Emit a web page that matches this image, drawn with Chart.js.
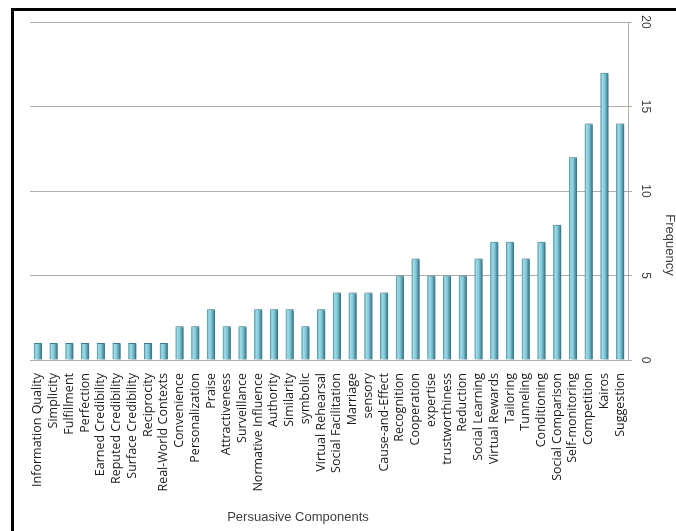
<!DOCTYPE html>
<html>
<head>
<meta charset="utf-8">
<script src="https://cdn.jsdelivr.net/npm/chart.js@4.4.1/dist/chart.umd.min.js"></script>
<style>
  html, body { margin: 0; padding: 0; background: #fff; }
  #wrap { position: relative; width: 676px; height: 531px; overflow: hidden; }
  #frame {
    position: absolute; left: 11px; top: 8px; width: 700px; height: 560px;
    border-top: 3px solid #000; border-left: 3px solid #000; pointer-events: none;
  }
</style>
</head>
<body>
<div id="wrap">
  <canvas id="freqChart" width="676" height="531"></canvas>
  <div id="frame"></div>
</div>
<script>
// Persuasive components and how often each one was found
const categories = [
    'Information Quality', 'Simplicity', 'Fulfillment', 'Perfection', 'Earned Credibility',
    'Reputed Credibility', 'Surface Credibility', 'Reciprocity', 'Real-World Contexts',
    'Convenience', 'Personalization', 'Praise', 'Attractiveness', 'Surveillance',
    'Normative Influence', 'Authority', 'Similarity', 'symbolic', 'Virtual Rehearsal',
    'Social Facilitation', 'Marriage', 'sensory', 'Cause-and-Effect', 'Recognition',
    'Cooperation', 'expertise', 'trustworthiness', 'Reduction', 'Social Learning',
    'Virtual Rewards', 'Tailoring', 'Tunneling', 'Conditioning', 'Social Comparison',
    'Self-monitoring', 'Competition', 'Kairos', 'Suggestion'
];
const frequencies = [
    1, 1, 1, 1, 1, 1, 1, 1, 1,
    2, 2, 3, 2, 2, 3, 3, 3, 2, 3,
    4, 4, 4, 4, 5, 6, 5, 5, 5, 6,
    7, 7, 6, 7, 8, 12, 14, 17, 14
];
const yTicks = [0, 5, 10, 15, 20];

const GRID = '#aeaea6';
const BAR_FLAT = '#6fbccd';

// Cylinder-like shading across each bar
function barGradient(context) {
    const chart = context.chart;
    const xs = chart.scales.x;
    if (!chart.chartArea || !xs || context.dataIndex === undefined) return BAR_FLAT;
    const cx = xs.getPixelForValue(context.dataIndex);
    const half = xs.width / categories.length * 0.26;
    const g = chart.ctx.createLinearGradient(cx - half, 0, cx + half, 0);
    g.addColorStop(0, '#3c8ca0');
    g.addColorStop(0.25, '#a2dbe7');
    g.addColorStop(0.55, '#80c6d6');
    g.addColorStop(1, '#2a6c7e');
    return g;
}

// Soft drop shadow behind the bars
const barShadow = {
    id: 'barShadow',
    beforeDatasetDraw(chart) {
        const ctx = chart.ctx;
        ctx.save();
        ctx.shadowColor = 'rgba(0, 0, 0, 0.45)';
        ctx.shadowBlur = 3;
        ctx.shadowOffsetX = 2;
        ctx.shadowOffsetY = 1;
    },
    afterDatasetDraw(chart) {
        chart.ctx.restore();
    }
};

// Rotated value labels on the right axis plus both axis titles
const axisText = {
    id: 'axisText',
    afterDraw(chart) {
        const ctx = chart.ctx;
        const ys = chart.scales.y;
        ctx.save();
        ctx.fillStyle = '#404040';
        ctx.font = '12px "Liberation Sans", Arial, sans-serif';
        ctx.textAlign = 'center';
        ctx.textBaseline = 'middle';
        yTicks.forEach(v => {
            ctx.save();
            ctx.translate(ys.right - 31, ys.getPixelForValue(v));
            ctx.rotate(Math.PI / 2);
            ctx.fillText(String(v), 0, 0);
            ctx.restore();
        });

        ctx.font = '13px "Liberation Sans", Arial, sans-serif';
        ctx.save();
        ctx.translate(670, 245);
        ctx.rotate(Math.PI / 2);
        ctx.fillText('Frequency', 0, 0);
        ctx.restore();

        ctx.fillText('Persuasive Components', 298, 517);
        ctx.restore();
    }
};

new Chart(document.getElementById('freqChart'), {
    type: 'bar',
    data: {
        labels: categories,
        datasets: [{
            label: 'Frequency',
            data: frequencies,
            backgroundColor: barGradient,
            borderColor: '#3a8598',
            borderWidth: { top: 1, left: 0, right: 0, bottom: 0 },
            borderSkipped: 'bottom',
            barPercentage: 0.52,
            categoryPercentage: 1.0
        }]
    },
    options: {
        responsive: false,
        animation: false,
        layout: { padding: { left: 30, top: 22, right: 0, bottom: 0 } },
        plugins: {
            legend: { display: false },
            tooltip: { enabled: false }
        },
        scales: {
            x: {
                grid: { display: false },
                border: { display: true, color: GRID },
                ticks: {
                    color: '#1a1a1a',
                    font: { family: '"Open Sans", "Noto Sans", sans-serif', size: 12.5 },
                    minRotation: 90,
                    maxRotation: 90,
                    autoSkip: false,
                    padding: 5
                },
                afterFit(scale) { scale.height = 171; }
            },
            y: {
                position: 'right',
                min: 0,
                max: 20,
                ticks: { stepSize: 5, display: false },
                grid: { color: GRID, tickLength: 4, drawTicks: true },
                border: { display: true, color: GRID },
                afterFit(scale) { scale.width = 48; }
            }
        }
    },
    plugins: [barShadow, axisText]
});
</script>
</body>
</html>
